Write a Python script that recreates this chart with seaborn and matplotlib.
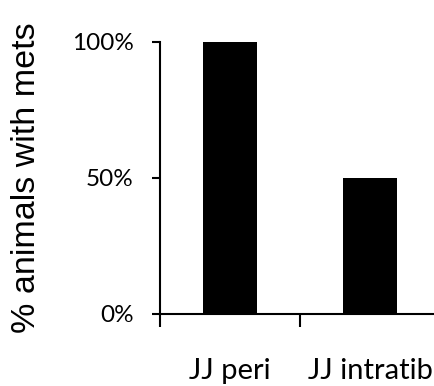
import matplotlib
matplotlib.use("Agg")
import matplotlib.pyplot as plt
import seaborn as sns
import pandas as pd
from matplotlib.ticker import FixedLocator, PercentFormatter

categories = ["JJ peri", "JJ intratib"]
values = [100, 50]
y_ticks = [0, 50, 100]

sns.set_theme(style="white")
plt.rcParams['font.family'] = ['Lato', 'DejaVu Sans']

df = pd.DataFrame({"cat": categories, "val": values})

fig = plt.figure(figsize=(4.35, 3.86), dpi=100)
ax = fig.add_axes([160/435, 72/386, 280/435, 272/386])

sns.barplot(data=df, x="cat", y="val", color="black", width=0.39, ax=ax,
            saturation=1, edgecolor="black", linewidth=0)

ax.set_xlim(-0.5, 1.5)
ax.set_ylim(0, 100)
ax.set_yticks(y_ticks)
ax.yaxis.set_major_formatter(PercentFormatter(decimals=0))
for s in ["top", "right"]:
    ax.spines[s].set_visible(False)
for s in ["left", "bottom"]:
    ax.spines[s].set_color("black")
    ax.spines[s].set_linewidth(1.5)

ax.set_xticks([0, 1])
ax.set_xticklabels(categories)
ax.xaxis.set_minor_locator(FixedLocator([-0.5, 0.5, 1.5]))
ax.tick_params(axis="x", which="major", length=0, pad=31.5, labelsize=21, colors="black")
ax.tick_params(axis="x", which="minor", length=9, width=1.5, direction="out", color="black", bottom=True)
ax.tick_params(axis="y", which="major", length=6, width=1.5, direction="out", pad=13, labelsize=17.5, colors="black", left=True)

ax.set_xlabel("")
ax.set_ylabel("% animals with mets", fontsize=24.5, family=["Liberation Sans", "DejaVu Sans"], color="black")
ax.yaxis.set_label_coords(-(160-42)/280, 0.5)

fig.savefig("out.png", dpi=100)
